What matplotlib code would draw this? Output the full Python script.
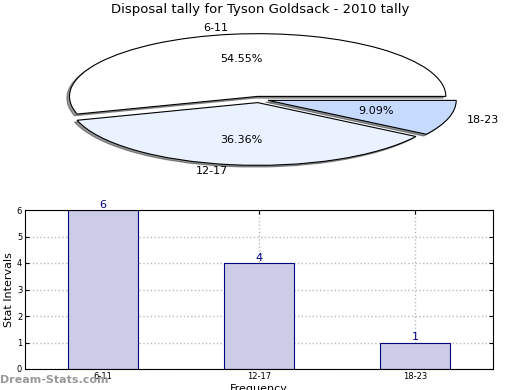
import matplotlib
matplotlib.use("Agg")
import matplotlib.pyplot as plt

title = "Disposal tally for Tyson Goldsack - 2010 tally"
intervals = ["6-11", "12-17", "18-23"]
counts = [6, 4, 1]
pie_colors = ["#ffffff", "#ebf2ff", "#c6d9ff"]

fig = plt.figure(figsize=(5.2, 3.9), dpi=100)

# pie on top, squashed (no equal aspect)
ax1 = fig.add_axes([52 / 520, 1 - 168.5 / 390, 414 / 520, 138 / 390])
wedges, texts, autotexts = ax1.pie(counts, labels=intervals, colors=pie_colors,
                                   explode=[0.05, 0.05, 0.05], autopct="%1.2f%%",
                                   shadow={"ox": -0.01, "oy": -0.02, "shade": 0.8},
                                   startangle=0,
                                   wedgeprops={"edgecolor": "black", "linewidth": 0.8},
                                   textprops={"fontsize": 8})
ax1.set_aspect("auto")
ax1.set_xlim(-1.1, 1.1)
ax1.set_ylim(-1.1, 1.1)
fig.text(0.5, 1 - 10 / 390, title, ha="center", va="center", fontsize=9.5)

# bar chart below
ax2 = fig.add_axes([25 / 520, 1 - 369 / 390, 468 / 520, 159 / 390])
x = range(len(intervals))
ax2.bar(x, counts, width=0.45, color="#ccccE6", edgecolor="navy", linewidth=0.8, zorder=2)
for i, c in enumerate(counts):
    ax2.text(i, c, str(c), ha="center", va="bottom", color="navy", fontsize=8)
ax2.set_xlim(-0.5, 2.5)
ax2.set_ylim(0, 6)
ax2.set_xticks(list(x))
ax2.set_xticklabels(intervals)
ax2.tick_params(labelsize=6, direction="in", top=True, right=True, length=3, pad=2)
ax2.grid(True, linestyle=":", color="#bbbbbb", linewidth=1)
ax2.set_ylabel("Stat Intervals", fontsize=8)
ax2.yaxis.set_label_coords(-0.023, 0.5)
ax2.set_xlabel("Frequency", fontsize=8, labelpad=2)

fig.text(0, 1 - 380 / 390, "Dream-Stats.com", color="#999999", fontsize=8,
         fontweight="bold", ha="left", va="center")

plt.savefig("out.png", dpi=100)
